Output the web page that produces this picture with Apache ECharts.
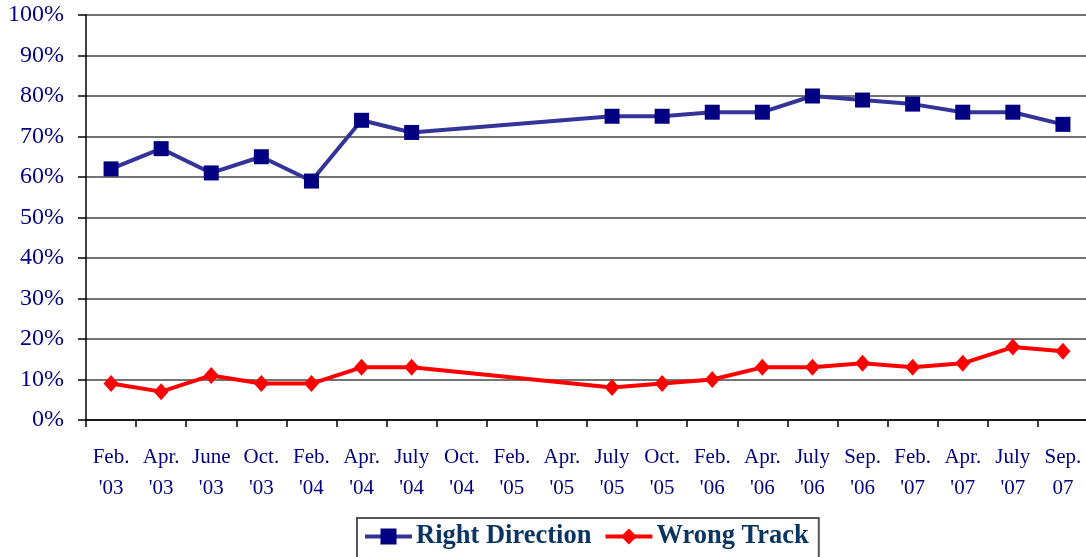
<!DOCTYPE html>
<html>
<head>
<meta charset="utf-8">
<script src="https://cdn.jsdelivr.net/npm/echarts@6/dist/echarts.min.js"></script>
<style>
html,body{margin:0;padding:0;background:#fff;}
#c{width:1086px;height:557px;}
</style>
</head>
<body>
<div id="c"></div>
<script>
var categories = ["Feb.\n'03","Apr.\n'03","June\n'03","Oct.\n'03","Feb.\n'04","Apr.\n'04","July\n'04","Oct.\n'04","Feb.\n'05","Apr.\n'05","July\n'05","Oct.\n'05","Feb.\n'06","Apr.\n'06","July\n'06","Sep.\n'06","Feb.\n'07","Apr.\n'07","July\n'07","Sep.\n07"];
var rightDirection = [62,67,61,65,59,74,71,null,null,null,75,75,76,76,80,79,78,76,76,73];
var wrongTrack = [9,7,11,9,9,13,13,null,null,null,8,9,10,13,13,14,13,14,18,17];
var yTicks = {min:0, max:100, interval:10};

var chart = echarts.init(document.getElementById('c'), null, {renderer:'canvas'});
chart.setOption({
  animation:false,
  backgroundColor:'#fff',
  grid:{left:86, top:15, width:1002, height:405, containLabel:false, outerBoundsMode:'none'},
  legend:{
    left:357, top:518,
    backgroundColor:'#fff',
    borderColor:'#555', borderWidth:2,
    padding:[5,10,10,6],
    itemGap:12,
    itemWidth:47, itemHeight:20,
    lineStyle:{width:4},
    textStyle:{fontFamily:'Liberation Serif', fontWeight:'bold', fontSize:26.5, color:'#0a3563', padding:[0,0,0,-1]},
    data:['Right Direction','Wrong Track']
  },
  xAxis:{
    type:'category', data:categories, boundaryGap:true,
    axisLine:{lineStyle:{color:'#000', width:1.5}},
    axisTick:{show:true, length:7, lineStyle:{color:'#000', width:1.5}},
    axisLabel:{interval:0, margin:22, fontFamily:'Liberation Serif', fontSize:21, color:'#000080', lineHeight:31},
    splitLine:{show:false}
  },
  yAxis:{
    type:'value', min:yTicks.min, max:yTicks.max, interval:yTicks.interval,
    axisLine:{show:true, lineStyle:{color:'#000', width:1.5}},
    axisTick:{show:true, length:8, lineStyle:{color:'#000', width:1.5}},
    axisLabel:{formatter:'{value}%', margin:22, fontFamily:'Liberation Serif', fontSize:24, color:'#000080', padding:[5,0,0,0]},
    splitLine:{show:true, lineStyle:{color:'#444', width:1.5}}
  },
  series:[
    {name:'Right Direction', type:'line', data:rightDirection, connectNulls:true,
     symbol:'rect', symbolSize:15,
     lineStyle:{color:'#333399', width:4},
     itemStyle:{color:'#000080'}},
    {name:'Wrong Track', type:'line', data:wrongTrack, connectNulls:true,
     symbol:'diamond', symbolSize:[15,17],
     lineStyle:{color:'#ff0000', width:4},
     itemStyle:{color:'#ff0000'}}
  ]
});
</script>
</body>
</html>
